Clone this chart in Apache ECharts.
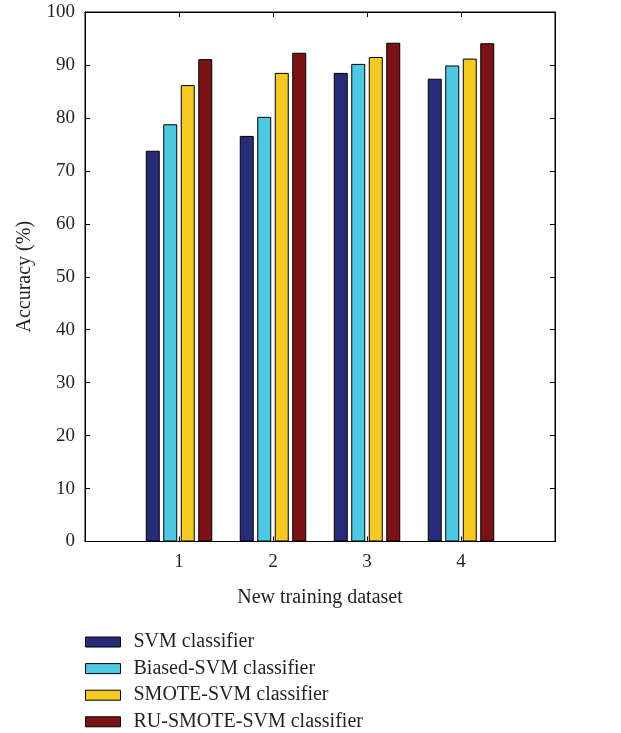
<!DOCTYPE html>
<html><head><meta charset="utf-8">
<script src="https://cdn.jsdelivr.net/npm/echarts@6/dist/echarts.min.js"></script>
<style>html,body{margin:0;padding:0;background:#fff}#c{width:621px;height:733px}</style>
</head><body><div id="c"></div>
<script>
const categories = [1, 2, 3, 4];
const seriesNames = ['SVM classifier', 'Biased-SVM classifier', 'SMOTE-SVM classifier', 'RU-SMOTE-SVM classifier'];
const svm = [73.8, 76.6, 88.5, 87.4];
const biasedSvm = [78.8, 80.2, 90.2, 89.9];
const smoteSvm = [86.2, 88.5, 91.5, 91.2];
const ruSmoteSvm = [91.1, 92.3, 94.2, 94.1];
const yTicks = [0, 10, 20, 30, 40, 50, 60, 70, 80, 90, 100];

const colors = ['#272b78', '#4fc8e4', '#f4c924', '#7b1316'];
const allVals = [svm, biasedSvm, smoteSvm, ruSmoteSvm];
const font = 'Liberation Serif';

const chart = echarts.init(document.getElementById('c'), null, {renderer: 'canvas'});
function axisCommon() {
  return {
    axisLine: {show: true, onZero: false, lineStyle: {color: '#000', width: 1}},
    axisTick: {show: true, inside: true, length: 5, lineStyle: {color: '#000', width: 1}},
    splitLine: {show: false}
  };
}
chart.setOption({
  animation: false,
  color: colors,
  grid: {left: 85, top: 12, width: 470, height: 529.5, show: true, borderColor: '#000', borderWidth: 1, containLabel: false},
  legend: {
    orient: 'vertical', left: 85, top: 632, padding: 0,
    icon: 'rect',
    itemWidth: 35, itemHeight: 10, itemGap: 6.6,
    data: seriesNames,
    textStyle: {fontFamily: font, fontSize: 20, lineHeight: 20, color: '#231f20', padding: [0, 0, 0, 8]},
    itemStyle: {borderColor: '#000', borderWidth: 1}
  },
  xAxis: [
    Object.assign({type: 'value', min: 0, max: 5, interval: 1, position: 'bottom',
      name: 'New training dataset', nameLocation: 'middle', nameGap: 46,
      nameTextStyle: {fontFamily: font, fontSize: 20, color: '#231f20'},
      axisLabel: {fontFamily: font, fontSize: 19, color: '#231f20', margin: 11,
        formatter: v => categories.indexOf(v) >= 0 ? String(v) : ''}}, axisCommon()),
    Object.assign({type: 'value', min: 0, max: 5, interval: 1, position: 'top',
      axisLabel: {show: false}}, axisCommon())
  ],
  yAxis: [
    Object.assign({type: 'value', min: 0, max: 100, interval: 10, position: 'left',
      name: 'Accuracy (%)', nameLocation: 'middle', nameGap: 50, nameRotate: 90,
      nameTextStyle: {fontFamily: font, fontSize: 20, color: '#231f20'},
      axisLabel: {fontFamily: font, fontSize: 19, color: '#231f20', margin: 10,
        formatter: v => yTicks.indexOf(v) >= 0 ? String(v) : ''}}, axisCommon()),
    Object.assign({type: 'value', min: 0, max: 100, interval: 10, position: 'right',
      axisLabel: {show: false}}, axisCommon())
  ],
  series: seriesNames.map((n, i) => ({
    name: n, type: 'bar', xAxisIndex: 0, yAxisIndex: 0, z: 10,
    barWidth: 14, barGap: '25%',
    itemStyle: {color: colors[i], borderColor: '#000', borderWidth: 1},
    data: categories.map((c, j) => [c, allVals[i][j]])
  }))
});
</script></body></html>
